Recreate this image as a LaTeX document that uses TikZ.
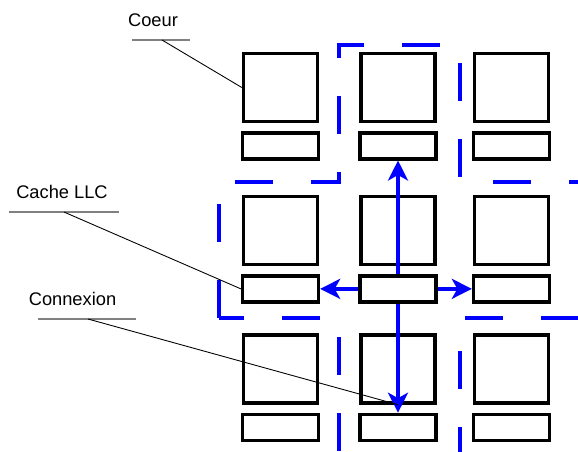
\documentclass[tikz,border=0pt]{standalone}
\usepackage{fontspec}
\setmainfont{Liberation Sans}
\usepackage{tikz}
\usetikzlibrary{positioning, arrows.meta}

\begin{document}
\begin{tikzpicture}[
    core/.style={rectangle, draw, line width=1.9pt, minimum width=1.48cm, minimum height=1.36cm, inner sep=0pt},
    cache/.style={rectangle, draw, line width=1.9pt, minimum width=1.52cm, minimum height=0.52cm, inner sep=0pt},
    lbltext/.style={font=\fontsize{10.4}{12}\selectfont, inner sep=0pt},
    underline/.style={draw=gray, line width=0.8pt},
    leader/.style={line width=0.5pt},
    link/.style={-{Stealth[length=0.4cm, width=0.4cm, inset=0.11cm]}, blue, line width=2pt},
    zone/.style={blue, line width=2.1pt, dash pattern=on 0.76cm off 0.76cm}
]
\useasboundingbox (0,0) rectangle (11.56,-9.02);
\clip (0,0) rectangle (11.56,-9.02);

% Blue zone (cross)
\draw[zone] (4.38,-6.36) -- (4.38,-3.64) -- (6.78,-3.64) -- (6.78,-0.9) -- (9.2,-0.9) -- (9.2,-3.64)
    -- (12.4,-3.64) -- (12.4,-6.36) -- (9.2,-6.36) -- (9.2,-9.85) -- (6.78,-9.85) -- (6.78,-6.36) -- cycle;

% Row 1
\node[core] (core11) at (5.61,-1.75) {};
\node[cache] (cache11) [below=0.16cm of core11] {};
\node[core] (core12) at (7.96,-1.75) {};
\node[cache] (cache12) [below=0.16cm of core12] {};
\node[core] (core13) at (10.23,-1.75) {};
\node[cache] (cache13) [below=0.16cm of core13] {};

% Row 2
\node[core] (core21) at (5.61,-4.61) {};
\node[cache] (cache21) [below=0.16cm of core21] {};
\node[core] (core22) at (7.96,-4.61) {};
\node[cache] (cache22) [below=0.16cm of core22] {};
\node[core] (core23) at (10.23,-4.61) {};
\node[cache] (cache23) [below=0.16cm of core23] {};

% Row 3
\node[core] (core31) at (5.61,-7.38) {};
\node[cache] (cache31) [below=0.16cm of core31] {};
\node[core] (core32) at (7.96,-7.38) {};
\node[cache] (cache32) [below=0.16cm of core32] {};
\node[core] (core33) at (10.23,-7.38) {};
\node[cache] (cache33) [below=0.16cm of core33] {};

% Links from the middle cache
\draw[link] (cache22) -- (cache12);
\draw[link] (cache22) -- (cache32);
\draw[link] (cache22) -- (cache21);
\draw[link] (cache22) -- (cache23);

% Labels
\node[lbltext] (coeur) at (3.06,-0.40) {Coeur};
\node[lbltext] (llc) at (1.24,-3.84) {Cache LLC};
\node[lbltext] (connexion) at (1.45,-5.98) {Connexion};

\draw[underline] (2.64,-0.8) -- (3.80,-0.8);
\draw[underline] (0.18,-4.24) -- (2.38,-4.24);
\draw[underline] (0.76,-6.38) -- (2.72,-6.38);

\coordinate (coeurfoot) at (3.24,-0.8);
\coordinate (llcfoot) at (1.28,-4.24);
\coordinate (connexionfoot) at (1.76,-6.38);
\coordinate (linktip) at ([yshift=0.16cm]cache32.north);

\draw[leader] (coeurfoot) -- (core11.west);
\draw[leader] (llcfoot) -- (cache21.west);
\draw[leader] (connexionfoot) -- (linktip);

\end{tikzpicture}
\end{document}
